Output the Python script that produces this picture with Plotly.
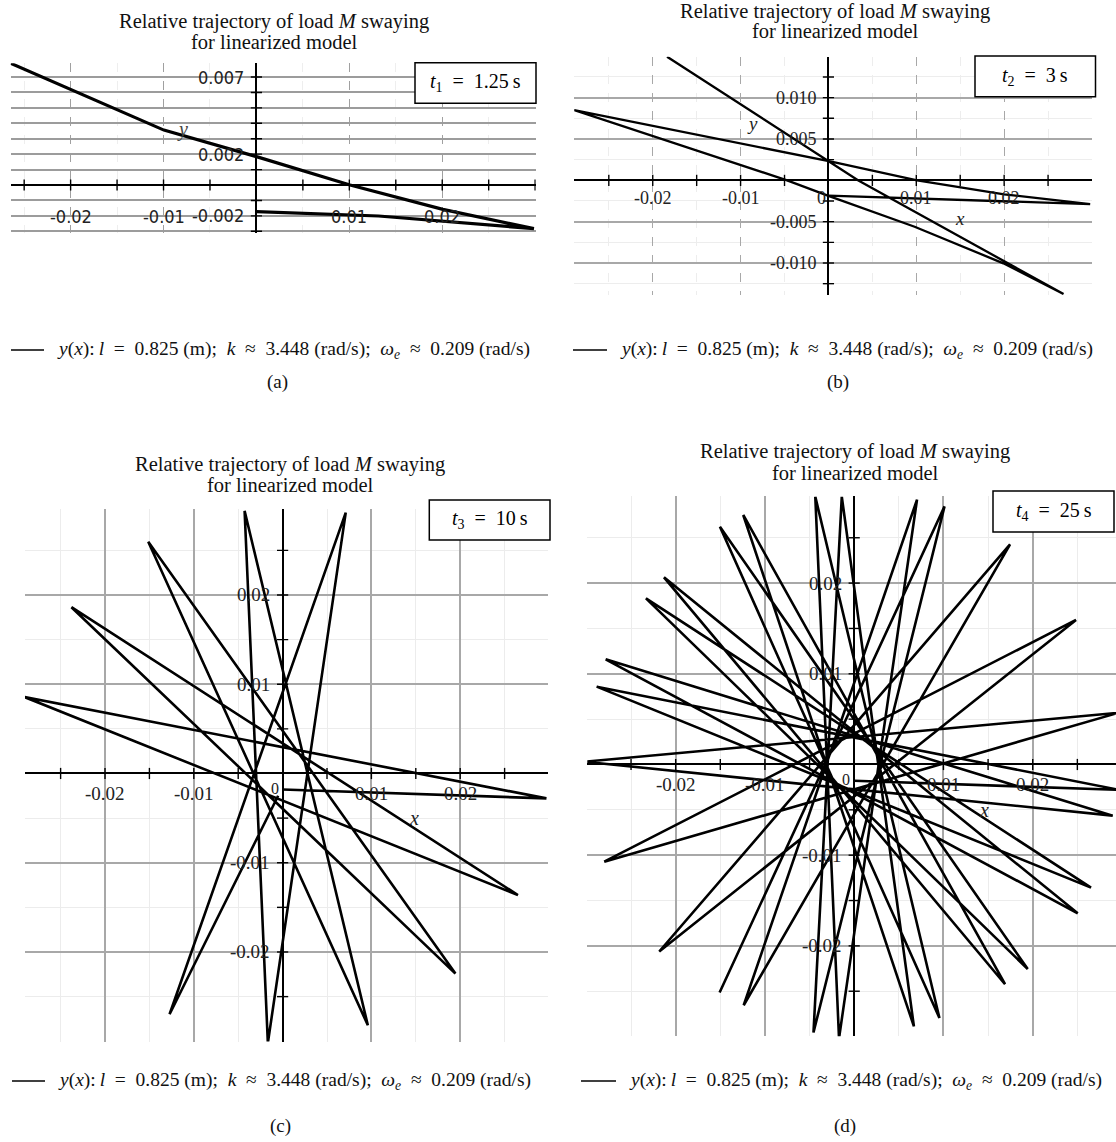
import plotly.graph_objects as go

W, H = 1116, 1142
SERIF = "Liberation Serif, Times New Roman, serif"
COND = "DejaVu Sans Condensed, Liberation Sans Narrow, Liberation Sans, sans-serif"

# ---------------- data: trajectory vertices ----------------
# (a) t1 = 1.25 s
A_X = [0.0, 0.01315, 0.02987, 0.02007, 0.01008, 0.0, -0.00996, -0.01989, -0.02645]
A_Y = [-0.00173, -0.00201, -0.00283, -0.00158, 0.0, 0.00184, 0.00356, 0.00616, 0.00789]
# (b) t2 = 3 s
B_X = [0.0, 0.02979, 0.02, 0.0101, 0.00033, -0.02894, -0.00471, 0.0, 0.00981, 0.01991, 0.02676, 0.00336, -0.01837]
B_Y = [-0.00186, -0.00287, -0.0017, 0.0, 0.00225, 0.0085, 0.0, -0.00189, -0.00561, -0.01004, -0.01375, 0.0, 0.01495]
# (c) t3 = 10 s  (start, swing tips, end)
C_X = [0.0, 0.02971, -0.02909, 0.0265, -0.02378, 0.01946, -0.01513, 0.0096, -0.00428, -0.00166, 0.00711, -0.01273, -0.0005]
C_Y = [-0.0018, -0.00279, 0.00857, -0.01362, 0.01863, -0.02242, 0.02596, -0.02821, 0.02942, -0.0302, 0.02922, -0.02698, -0.0025]
# (d) t4 = 25 s  (start, swing tips)
D_X = [0.0, 0.0297, -0.02885, 0.02653, -0.02333, 0.01944, -0.01504, 0.00955, -0.00436, -0.0017,
       0.00704, -0.01238, 0.01746, -0.02184, 0.02485, -0.028, 0.0296, -0.0302, 0.02896, -0.02784,
       0.02504, -0.02131, 0.0169, -0.01243, 0.00669, -0.00139, -0.00456, 0.01012, -0.01508]
D_Y = [-0.0018, -0.0028, 0.00858, -0.01358, 0.01832, -0.02255, 0.02622, -0.02795, 0.02954, -0.0302,
       0.02921, -0.02655, 0.02428, -0.02062, 0.01594, -0.01072, 0.0057, 0.0003, -0.00564, 0.0116,
       -0.01641, 0.02064, -0.02423, 0.02751, -0.02888, 0.02954, -0.02955, 0.02846, -0.02514]

# tick values / labels
A_XLAB = [-0.02, -0.01, 0.01, 0.02]
A_YLAB = [0.007, 0.002, -0.002]
A_YGRID = [-0.003, -0.002, -0.001, 0.001, 0.002, 0.003, 0.004, 0.005, 0.006, 0.007]
A_XTICK = [-0.025, -0.02, -0.015, -0.01, -0.005, 0.005, 0.01, 0.015, 0.02, 0.025, 0.03]
B_XLAB = [-0.02, -0.01, 0.01, 0.02]
B_YLAB = [0.01, 0.005, -0.005, -0.01]
B_YLABT = ["0.010", "0.005", "-0.005", "-0.010"]
B_XTICK = [-0.025, -0.02, -0.015, -0.01, -0.005, 0.005, 0.01, 0.015, 0.02, 0.025]
B_YTICK = [-0.0125, -0.01, -0.0075, -0.005, -0.0025, 0.0025, 0.005, 0.0075, 0.01, 0.0125]
CD_LAB = [-0.02, -0.01, 0.01, 0.02]
CD_MINOR = [-0.025, -0.015, -0.005, 0.005, 0.015, 0.025]
CD_TICK = [-0.025, -0.02, -0.015, -0.01, -0.005, 0.005, 0.01, 0.015, 0.02, 0.025]

SP = "\u2002"
LEGEND = ("<i>y</i>(<i>x</i>):\u2009<i>l</i>" + SP + "=" + SP + "0.825 (m);" + SP + "<i>k</i>" + SP + "\u2248" + SP +
          "3.448 (rad/s);" + SP + "<i>\u03c9<sub>e</sub></i>" + SP + "\u2248" + SP + "0.209 (rad/s)")


def fx(p):
    return p / W


def fy(p):
    return 1 - p / H


fig = go.Figure()
annotations = []
shapes = []

panels = [
    dict(k="", box=(10.7, 63.3, 535.7, 233.3), xr=[-0.02645, 0.03006], yr=[-0.00313, 0.00789],
         X=A_X, Y=A_Y, lw=3.2),
    dict(k="2", box=(574.2, 56.7, 1092, 295), xr=[-0.02894, 0.0300], yr=[-0.01387, 0.01495],
         X=B_X, Y=B_Y, lw=2.3),
    dict(k="3", box=(25, 509.1, 548.2, 1041.6), xr=[-0.02901, 0.02991], yr=[-0.03004, 0.02962],
         X=C_X, Y=C_Y, lw=2.6),
    dict(k="4", box=(587.3, 496.4, 1116, 1036.2), xr=[-0.0299, 0.02933], yr=[-0.02996, 0.02956],
         X=D_X, Y=D_Y, lw=2.6),
]

for i, p in enumerate(panels):
    k = p["k"]
    l, t, r, b = p["box"]
    xa = dict(domain=[fx(l), fx(r)], range=p["xr"], anchor="y" + k, showticklabels=False, ticks="",
              zeroline=True, zerolinecolor="black", zerolinewidth=1.6, showline=False, fixedrange=True)
    ya = dict(domain=[fy(b), fy(t)], range=p["yr"], anchor="x" + k, showticklabels=False, ticks="",
              zeroline=True, zerolinecolor="black", zerolinewidth=1.6, showline=False, fixedrange=True)
    if i == 0:
        xa.update(tickvals=A_XLAB, showgrid=True, gridcolor="#a0a0a0", gridwidth=1.2, griddash="dash",
                  minor=dict(tickvals=[-0.025, -0.015, -0.005, 0.005, 0.015, 0.025], showgrid=True,
                             gridcolor="#eeeeee", gridwidth=1))
        ya.update(tickvals=A_YGRID, showgrid=True, gridcolor="#9c9c9c", gridwidth=2.2)
    elif i == 1:
        xa.update(tickvals=B_XLAB, showgrid=True, gridcolor="#a8a8a8", gridwidth=1.2, griddash="dash",
                  minor=dict(tickvals=[-0.025, -0.015, -0.005, 0.005, 0.015, 0.025], showgrid=True,
                             gridcolor="#ededed", gridwidth=1))
        ya.update(tickvals=B_YLAB, showgrid=True, gridcolor="#a8a8a8", gridwidth=1.5,
                  minor=dict(tickvals=[-0.0125, -0.0075, -0.0025, 0.0025, 0.0075, 0.0125], showgrid=True,
                             gridcolor="#ededed", gridwidth=1))
    else:
        for ax in (xa, ya):
            ax.update(tickvals=CD_LAB, showgrid=True, gridcolor="#a8a8a8", gridwidth=1.5,
                      minor=dict(tickvals=CD_MINOR, showgrid=True, gridcolor="#ececec", gridwidth=1))
    fig.update_layout(**{"xaxis" + k: xa, "yaxis" + k: ya})

    # trajectory
    fig.add_trace(go.Scatter(x=p["X"], y=p["Y"], mode="lines", xaxis="x" + k, yaxis="y" + k,
                             line=dict(color="black", width=p["lw"]), hoverinfo="skip"))

# axis tick marks
tickspecs = [
    ("", A_XTICK, A_YGRID),
    ("2", B_XTICK, B_YTICK),
    ("3", CD_TICK, CD_TICK),
    ("4", CD_TICK, CD_TICK),
]
for k, xt, yt in tickspecs:
    fig.add_trace(go.Scatter(x=xt, y=[0] * len(xt), mode="markers", xaxis="x" + k, yaxis="y" + k,
                             marker=dict(symbol="line-ns", size=8, line=dict(width=1.4, color="black")),
                             hoverinfo="skip"))
    fig.add_trace(go.Scatter(x=[0] * len(yt), y=yt, mode="markers", xaxis="x" + k, yaxis="y" + k,
                             marker=dict(symbol="line-ew", size=8, line=dict(width=1.4, color="black")),
                             hoverinfo="skip"))


def lab(k, x, y, text, font, size, xanchor="center", yanchor="middle", xshift=0, yshift=0, color="#222"):
    annotations.append(dict(xref="x" + k if k != "" else "x", yref="y" + k if k != "" else "y",
                            x=x, y=y, text=text, showarrow=False, xanchor=xanchor, yanchor=yanchor,
                            xshift=xshift, yshift=yshift, font=dict(family=font, size=size, color=color)))


# (a) tick labels
for v in A_XLAB:
    lab("", v, 0, "%g" % v, COND, 18, yshift=-31)
for v in A_YLAB:
    lab("", 0, v, "%g" % v, COND, 18, xanchor="right", xshift=-10)
lab("", 0.0148, -0.0044, "<i>x</i>", SERIF, 22, color="#333")
lab("", -0.0080, 0.0036, "<i>y</i>", SERIF, 20, color="#444")

# (b) tick labels
for v in B_XLAB:
    lab("2", v, 0, "%g" % v, SERIF, 18, yshift=-18)
lab("2", 0, 0, "0", SERIF, 18, xanchor="right", xshift=0, yshift=-18)
for v, tx in zip(B_YLAB, B_YLABT):
    lab("2", 0, v, tx, SERIF, 18, xanchor="right", xshift=-9)
lab("2", 0.0150, -0.0046, "<i>x</i>", SERIF, 19)
lab("2", -0.0086, 0.0069, "<i>y</i>", SERIF, 19)

# (c), (d) tick labels
for k, xs, ys in (("3", -20, -11), ("4", -20, -10)):
    for v in CD_LAB:
        lab(k, v, 0, "%g" % v, SERIF, 19, yshift=xs)
        lab(k, 0, v, "%g" % v, SERIF, 19, xanchor="right", xshift=ys)
    lab(k, 0, 0, "0", SERIF, 16, xanchor="right", xshift=-2, yshift=-15)
lab("3", 0.0148, -0.005, "<i>x</i>", SERIF, 20)
lab("4", 0.0145, -0.005, "<i>x</i>", SERIF, 20)

# titles
titles = [(274, 21.5, 42), (835, 11.5, 31.5), (290, 464, 484.5), (855, 452, 472.5)]
for cx, y1, y2 in titles:
    annotations.append(dict(xref="paper", yref="paper", x=fx(cx), y=fy(y1), xanchor="center", yanchor="middle",
                            text="Relative trajectory of load <i>M</i> swaying", showarrow=False,
                            font=dict(family=SERIF, size=20.5, color="#111")))
    annotations.append(dict(xref="paper", yref="paper", x=fx(cx), y=fy(y2), xanchor="center", yanchor="middle",
                            text="for linearized model", showarrow=False,
                            font=dict(family=SERIF, size=20.5, color="#111")))

# time boxes
boxes = [((415, 62.7, 536, 103.3), "1", "1.25"), ((975, 56, 1095.5, 96.7), "2", "3"),
         ((429.3, 500, 550, 540), "3", "10"), ((993, 490.9, 1114, 532), "4", "25")]
for (l, t, r, b), n, val in boxes:
    shapes.append(dict(type="rect", xref="paper", yref="paper", x0=fx(l), x1=fx(r), y0=fy(b), y1=fy(t),
                       line=dict(color="black", width=1.5), fillcolor="white", layer="above"))
    annotations.append(dict(xref="paper", yref="paper", x=fx((l + r) / 2), y=fy((t + b) / 2),
                            xanchor="center", yanchor="middle", showarrow=False,
                            text="<i>t</i><sub>%s</sub>" % n + SP + "=" + SP + "%s\u2009s" % val,
                            font=dict(family=SERIF, size=20, color="black")))

# legends and panel letters
legs = [(11, 44, 55, 350, 277, 382, "(a)"), (573, 607, 618, 350, 838, 382, "(b)"),
        (12, 45, 56, 1081, 280, 1126, "(c)"), (581, 616, 627, 1081, 845, 1126, "(d)")]
for x0, x1, tx, ly, cx, cy, letter in legs:
    shapes.append(dict(type="line", xref="paper", yref="paper", x0=fx(x0), x1=fx(x1), y0=fy(ly), y1=fy(ly),
                       line=dict(color="black", width=1.6)))
    annotations.append(dict(xref="paper", yref="paper", x=fx(tx), y=fy(ly), xanchor="left", yanchor="middle",
                            text=LEGEND, showarrow=False, font=dict(family=SERIF, size=19.5, color="#111")))
    annotations.append(dict(xref="paper", yref="paper", x=fx(cx), y=fy(cy), xanchor="center", yanchor="middle",
                            text=letter, showarrow=False, font=dict(family=SERIF, size=19, color="#111")))

fig.update_layout(width=W, height=H, margin=dict(l=0, r=0, t=0, b=0), showlegend=False,
                  plot_bgcolor="white", paper_bgcolor="white", annotations=annotations, shapes=shapes)

fig.write_html("out.html")
